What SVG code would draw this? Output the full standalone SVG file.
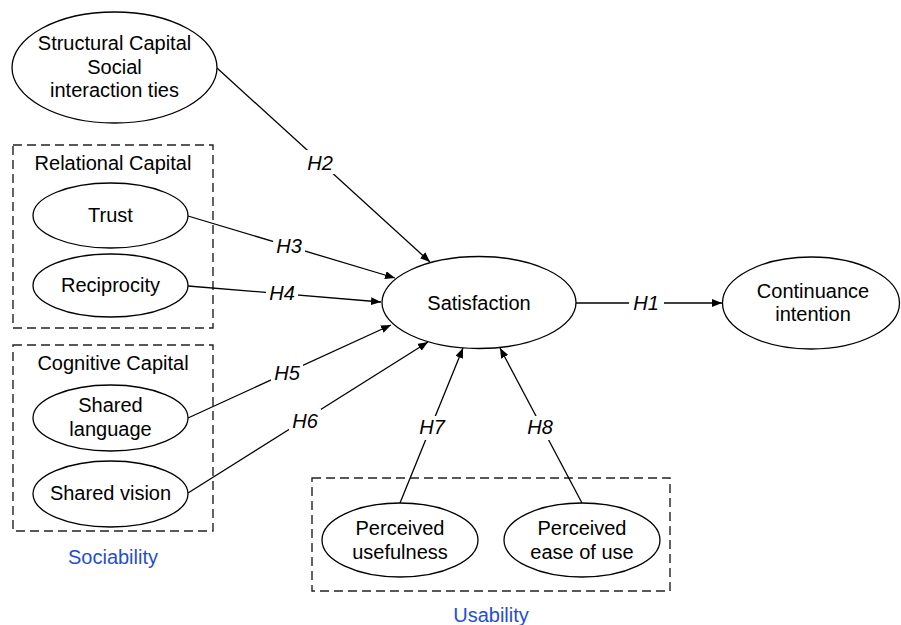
<svg xmlns="http://www.w3.org/2000/svg" width="901" height="625" viewBox="0 0 901 625">
<style>
.n{fill:#fff;stroke:#000;stroke-width:1.3}
.t{font-family:"Liberation Sans",Arial,sans-serif;font-size:20px;fill:#000;text-anchor:middle}
.h{font-family:"Liberation Sans",Arial,sans-serif;font-size:20px;font-style:italic;fill:#000;text-anchor:middle}
.g{fill:none;stroke:#222;stroke-width:1.4;stroke-dasharray:9 5}
.b{font-family:"Liberation Sans",Arial,sans-serif;font-size:20px;fill:#1f4fd0;text-anchor:middle}
.e{stroke:#000;stroke-width:1.3;fill:none}
.e.a{marker-end:url(#arr)}
.w{fill:#fff}
</style>
<defs>
<marker id="arr" viewBox="0 0 10 8" refX="10" refY="4" markerWidth="10" markerHeight="8" markerUnits="userSpaceOnUse" orient="auto">
<path d="M0,0 L10,4 L0,8 z" fill="#000"/>
</marker>
</defs>

<g id="groups">
<rect id="relational-box" class="g" x="13" y="145" width="200" height="183"/>
<rect id="cognitive-box" class="g" x="13" y="345" width="200" height="186"/>
<rect id="usability-box" class="g" x="312" y="478" width="358" height="113"/>
<text class="t" x="113" y="170">Relational Capital</text>
<text class="t" x="113" y="370">Cognitive Capital</text>
<text class="b" x="113" y="564">Sociability</text>
<text class="b" x="491" y="622">Usability</text>
</g>

<g id="connectors">
<line class="e a" x1="217" y1="68" x2="430" y2="262"/>
<line class="e a" x1="188" y1="216" x2="395" y2="278"/>
<line class="e a" x1="188" y1="286" x2="381" y2="302"/>
<line class="e a" x1="188" y1="418" x2="391" y2="325"/>
<line class="e a" x1="188" y1="493" x2="428" y2="342"/>
<line class="e a" x1="400" y1="503" x2="463" y2="348"/>
<line class="e a" x1="582" y1="503" x2="500" y2="348"/>
<line class="e a" x1="576" y1="303" x2="722" y2="303"/>
<rect class="w" x="304" y="150" width="32" height="24"/>
<rect class="w" x="273" y="234" width="32" height="24"/>
<rect class="w" x="266" y="282" width="32" height="22"/>
<rect class="w" x="271" y="361" width="32" height="24"/>
<rect class="w" x="289" y="409" width="32" height="24"/>
<rect class="w" x="416" y="416" width="32" height="24"/>
<rect class="w" x="524" y="416" width="32" height="24"/>
<rect class="w" x="629" y="292" width="35" height="22"/>
<text class="h" x="320" y="170">H2</text>
<text class="h" x="289" y="253">H3</text>
<text class="h" x="282" y="300">H4</text>
<text class="h" x="287" y="380">H5</text>
<text class="h" x="305" y="428">H6</text>
<text class="h" x="432" y="434">H7</text>
<text class="h" x="540" y="434">H8</text>
<text class="h" x="646" y="310">H1</text>
</g>

<g id="structural">
<ellipse class="n" cx="114.5" cy="67.5" rx="102.5" ry="55.5"/>
<text class="t" x="114.5" y="50">Structural Capital</text>
<text class="t" x="114.5" y="74">Social</text>
<text class="t" x="114.5" y="97">interaction ties</text>
</g>
<g id="trust">
<ellipse class="n" cx="110.5" cy="215.5" rx="77.5" ry="32.5"/>
<text class="t" x="110.5" y="222">Trust</text>
</g>
<g id="reciprocity">
<ellipse class="n" cx="110.5" cy="285.5" rx="77.5" ry="31.5"/>
<text class="t" x="110.5" y="292">Reciprocity</text>
</g>
<g id="shared-language">
<ellipse class="n" cx="110.5" cy="418" rx="77.5" ry="33"/>
<text class="t" x="110.5" y="412">Shared</text>
<text class="t" x="110.5" y="436">language</text>
</g>
<g id="shared-vision">
<ellipse class="n" cx="110.5" cy="494" rx="77.5" ry="33"/>
<text class="t" x="110.5" y="500">Shared vision</text>
</g>
<g id="satisfaction">
<ellipse class="n" cx="479" cy="302.5" rx="97" ry="46"/>
<text class="t" x="479" y="310">Satisfaction</text>
</g>
<g id="continuance">
<ellipse class="n" cx="811" cy="303" rx="88.5" ry="46"/>
<text class="t" x="813" y="298">Continuance</text>
<text class="t" x="813" y="321">intention</text>
</g>
<g id="perceived-usefulness">
<ellipse class="n" cx="400" cy="540" rx="78" ry="37"/>
<text class="t" x="400" y="535">Perceived</text>
<text class="t" x="400" y="559">usefulness</text>
</g>
<g id="perceived-ease">
<ellipse class="n" cx="582" cy="540" rx="78" ry="37"/>
<text class="t" x="582" y="535">Perceived</text>
<text class="t" x="582" y="559">ease of use</text>
</g>
</svg>
